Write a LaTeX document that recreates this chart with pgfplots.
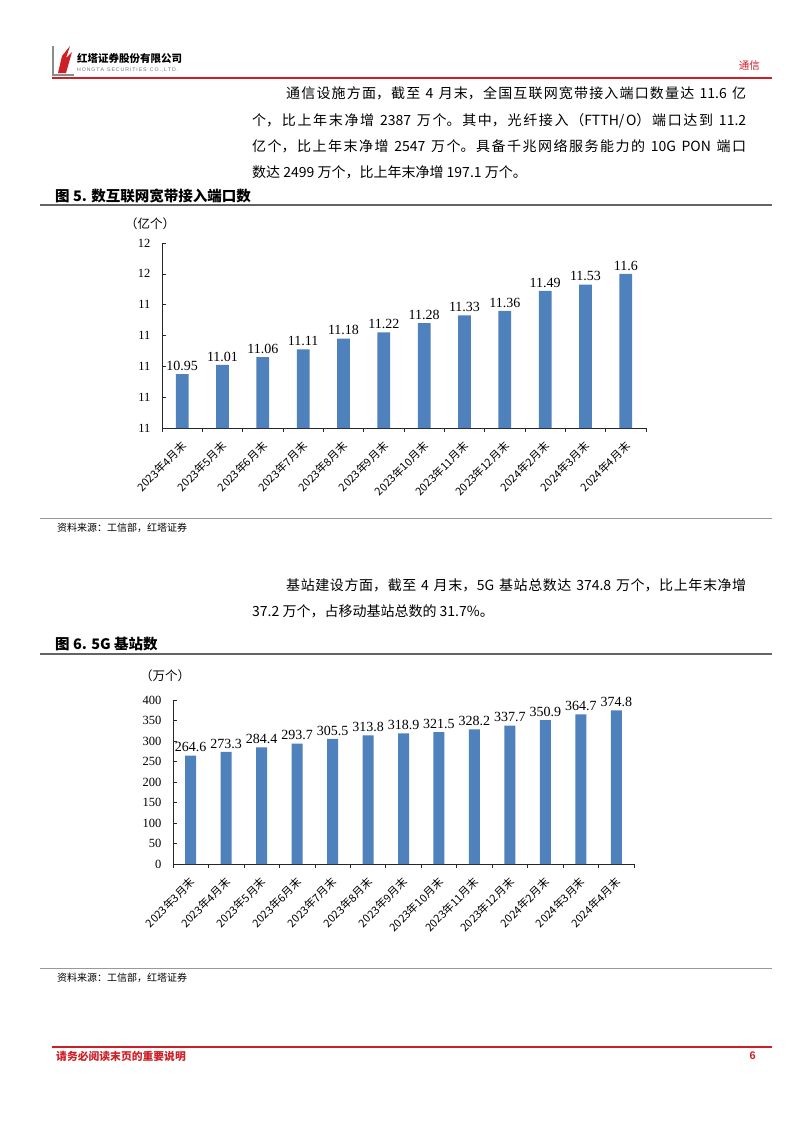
\documentclass[border=0pt]{standalone}
\usepackage{pgfplots}
\pgfplotsset{compat=1.18}
\usepackage{fontspec}
\setmainfont{Noto Sans CJK SC}
\newfontfamily\tnr{Liberation Serif}
\newfontfamily\ars{Liberation Sans}
\XeTeXlinebreaklocale "zh"
\XeTeXlinebreakskip=0pt plus 1pt
\definecolor{barblue}{RGB}{79,129,189}
\definecolor{hred}{RGB}{204,32,38}
\definecolor{rulegray}{RGB}{100,100,100}
\newcommand\jline[2]{\parbox[b]{#1}{\parindent=0pt\parfillskip=0pt\spaceskip=0.3em plus 1pt\relax #2}}
\pgfplotstableread{
x y label
0 10.95 10.95
1 11.01 11.01
2 11.06 11.06
3 11.11 11.11
4 11.18 11.18
5 11.22 11.22
6 11.28 11.28
7 11.33 11.33
8 11.36 11.36
9 11.49 11.49
10 11.53 11.53
11 11.6 11.6
}\portdata
\pgfplotstableread{
x y label
0 264.6 264.6
1 273.3 273.3
2 284.4 284.4
3 293.7 293.7
4 305.5 305.5
5 313.8 313.8
6 318.9 318.9
7 321.5 321.5
8 328.2 328.2
9 337.7 337.7
10 350.9 350.9
11 364.7 364.7
12 374.8 374.8
}\bsdata
\pgfplotsset{
  mybars/.style={
    scale only axis,
    axis x line*=bottom, axis y line*=left,
    axis line style={black!85, line width=0.8pt, -},
    major x tick style={draw=none},
    tick align=inside,
    major tick length=4pt, minor tick length=4pt,
    tick style={black!85, line width=0.6pt},
    x tick label style={rotate=45, anchor=east, font=\fontsize{11}{12}\selectfont, inner sep=1pt, xshift=-6pt, yshift=-10pt},
    y tick label style={font=\tnr\fontsize{12.5}{14}\selectfont, xshift=-8pt},
    /pgf/number format/assume math mode=true,
    ybar, 
    nodes near coords, nodes near coords style={font=\tnr\fontsize{14}{15}\selectfont, black},
    point meta=explicit symbolic,
  }
}
\begin{document}
\begin{tikzpicture}
\path[use as bounding box, fill=white] (0pt,0pt) rectangle (802pt,-1133pt);
% header
\fill[black!45] (52pt,-46pt) rectangle (54pt,-76pt);
\fill[black!45] (52pt,-74pt) rectangle (74pt,-76pt);
\fill[hred] (58pt,-73pt) -- (62pt,-56pt) -- (70pt,-46pt) -- (66pt,-58pt) -- (72pt,-52pt) -- (66pt,-73pt) -- cycle;
\node[anchor=west, inner sep=0] at (77pt,-58pt) {\fontsize{10.5}{12}\selectfont\bfseries 红塔证券股份有限公司};
\node[anchor=west, inner sep=0, text=black!55] at (77pt,-70pt) {\ars\fontsize{5.2}{6}\selectfont\makebox[101pt][s]{H\hfill O\hfill N\hfill G\hfill T\hfill A\hfill\ \hfill S\hfill E\hfill C\hfill U\hfill R\hfill I\hfill T\hfill I\hfill E\hfill S\hfill\ \hfill C\hfill O\hfill .\hfill ,\hfill L\hfill T\hfill D\hfill .}};
\node[anchor=east, inner sep=0, text=hred] at (760pt,-66pt) {\fontsize{10.5}{12}\selectfont 通信};
\draw[hred, line width=1.2pt] (52pt,-78pt) -- (772pt,-78pt);
% paragraphs
\begin{scope}[every node/.style={anchor=base west, inner sep=0, font=\fontsize{14}{16}\selectfont}]
\node at (286pt,-98pt) {\jline{460pt}{通信设施方面，截至 4 月末，全国互联网宽带接入端口数量达 11.6 亿}};
\node at (252pt,-125pt) {\jline{494pt}{个，比上年末净增 2387 万个。其中，光纤接入（FTTH/O）端口达到 11.2}};
\node at (252pt,-151pt) {\jline{494pt}{亿个，比上年末净增 2547 万个。具备千兆网络服务能力的 10G PON 端口}};
\node at (252pt,-177pt) {数达 2499 万个，比上年末净增 197.1 万个。};
\node at (286pt,-590pt) {\jline{460pt}{基站建设方面，截至 4 月末，5G 基站总数达 374.8 万个，比上年末净增}};
\node at (252pt,-616pt) {37.2 万个，占移动基站总数的 31.7\%。};
\end{scope}
% captions
\node[anchor=west, inner sep=0] at (55pt,-196pt) {\fontsize{14.5}{16}\selectfont\bfseries 图 5. 数互联网宽带接入端口数};
\draw[rulegray, line width=1.6pt] (40pt,-205pt) -- (772pt,-205pt);
\node[anchor=west, inner sep=0] at (55pt,-644pt) {\fontsize{14.5}{16}\selectfont\bfseries 图 6. 5G 基站数};
\draw[rulegray, line width=1.6pt] (40pt,-654pt) -- (772pt,-654pt);
% units
\node[inner sep=0] at (150pt,-224pt) {\fontsize{12.5}{14}\selectfont （亿个）};
\node[inner sep=0] at (165pt,-676pt) {\fontsize{12.5}{14}\selectfont （万个）};
% sources
\draw[black!40, line width=0.8pt] (40pt,-518pt) -- (772pt,-518pt);
\node[anchor=west, inner sep=0] at (57pt,-528pt) {\fontsize{10}{11}\selectfont 资料来源：工信部，红塔证券};
\draw[black!40, line width=0.8pt] (40pt,-968pt) -- (772pt,-968pt);
\node[anchor=west, inner sep=0] at (57pt,-978pt) {\fontsize{10}{11}\selectfont 资料来源：工信部，红塔证券};
% footer
\draw[hred, line width=1.2pt] (52pt,-1047pt) -- (772pt,-1047pt);
\node[anchor=west, inner sep=0, text=hred] at (56pt,-1056pt) {\fontsize{10.8}{12}\selectfont\bfseries 请务必阅读末页的重要说明};
\node[anchor=east, inner sep=0, text=hred] at (756pt,-1056pt) {\ars\fontsize{11}{12}\selectfont\bfseries 6};

% chart 1
\begin{axis}[mybars,
  at={(162pt,-428pt)}, anchor=south west,
  width=484pt, height=185pt,
  xmin=-0.5, xmax=11.5, ymin=10.6, ymax=11.8,
  ytick={10.6,10.8,11.0,11.2,11.4,11.6,11.8},
  yticklabels={11,11,11,11,11,12,12},
  xtick={0,...,11},
  minor xtick={-0.5,0.5,...,11.5},
  xticklabels={2023年4月末,2023年5月末,2023年6月末,2023年7月末,2023年8月末,2023年9月末,2023年10月末,2023年11月末,2023年12月末,2024年2月末,2024年3月末,2024年4月末},
  bar width=12.7pt,
]
\addplot[fill=barblue, draw=none] table[x=x, y=y, meta=label] {\portdata};
\end{axis}

% chart 2
\begin{axis}[mybars,
  at={(173pt,-864pt)}, anchor=south west,
  width=461pt, height=164pt,
  xmin=-0.5, xmax=12.5, ymin=0, ymax=400,
  ytick={0,50,...,400},
  xtick={0,...,12},
  minor xtick={-0.5,0.5,...,12.5},
  xticklabels={2023年3月末,2023年4月末,2023年5月末,2023年6月末,2023年7月末,2023年8月末,2023年9月末,2023年10月末,2023年11月末,2023年12月末,2024年2月末,2024年3月末,2024年4月末},
  bar width=11pt,
  clip=false,
]
\addplot[fill=barblue, draw=none] table[x=x, y=y, meta=label] {\bsdata};
\end{axis}
\end{tikzpicture}
\end{document}
